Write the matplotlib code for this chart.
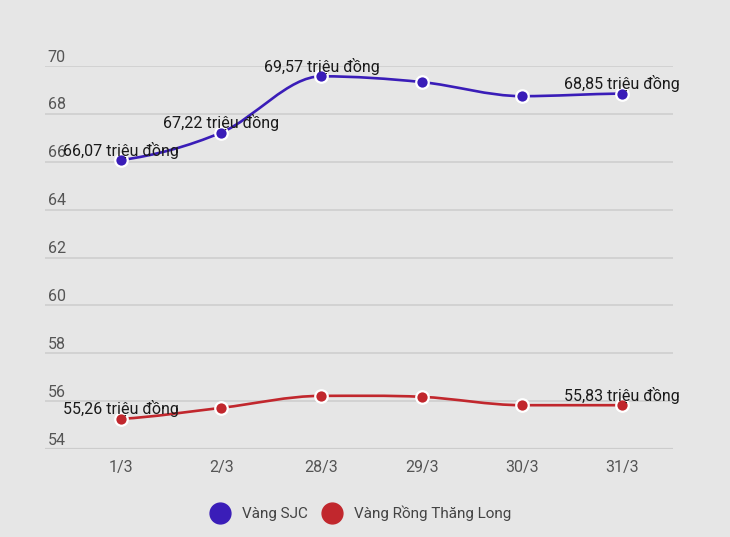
import numpy as np
import matplotlib
matplotlib.use('Agg')
import matplotlib.pyplot as plt
from matplotlib.path import Path
from matplotlib.patches import PathPatch
from matplotlib.lines import Line2D
import matplotlib.transforms as mtransforms

plt.rcParams['font.family'] = ['Roboto', 'DejaVu Sans']

days = ['1/3', '2/3', '28/3', '29/3', '30/3', '31/3']
sjc = [66.07, 67.22, 69.57, 69.33, 68.74, 68.85]
rong = [55.26, 55.72, 56.22, 56.18, 55.83, 55.83]
yticks = [54, 56, 58, 60, 62, 64, 66, 68, 70]
# which points get a value label
labelled = [0, 1, 2, 5]
labelled_rong = [0, 5]

bg = '#e6e6e6'
blue = '#3a1db8'
red = '#c1272d'


def smooth_path(xs, ys):
    # cubic bezier through points, flat tangents at local extremes
    xs = np.asarray(xs, float)
    ys = np.asarray(ys, float)
    n = len(xs)
    sec = np.diff(ys) / np.diff(xs)
    m = np.zeros(n)
    for i in range(n):
        if i == 0:
            m[i] = sec[0] * 0.5
        elif i == n - 1:
            m[i] = sec[-1] * 0.5
        elif sec[i - 1] * sec[i] <= 0:
            m[i] = 0.0
        else:
            m[i] = (sec[i - 1] + sec[i]) / 2
    verts = [(xs[0], ys[0])]
    codes = [Path.MOVETO]
    for i in range(n - 1):
        dx = xs[i + 1] - xs[i]
        verts += [(xs[i] + dx / 3, ys[i] + m[i] * dx / 3),
                  (xs[i + 1] - dx / 3, ys[i + 1] - m[i + 1] * dx / 3),
                  (xs[i + 1], ys[i + 1])]
        codes += [Path.CURVE4] * 3
    return Path(verts, codes)


fig = plt.figure(figsize=(7.3, 5.37), dpi=100, facecolor=bg)
ax = fig.add_axes([45 / 730, 88 / 537, 628 / 730, 383 / 537])
ax.set_facecolor(bg)

x = np.arange(len(days))
ax.set_xlim(-0.76, 5.51)
ax.set_ylim(54, 70)

for v in yticks:
    ax.axhline(v, color='#cccccc', lw=1.1 if v != 54 else 1.6, zorder=1)

ax.set_yticks([])
ax.set_xticks(x)
ax.set_xticklabels(days, fontsize=11.5, color='#555555')
ax.tick_params(axis='x', length=0, pad=8)
for s in ax.spines.values():
    s.set_visible(False)

ylab = mtransforms.blended_transform_factory(ax.transAxes, ax.transData)
off = mtransforms.offset_copy(ylab, fig=fig, x=1, y=1, units='points')
for v in yticks:
    ax.text(0.002, v, str(v), transform=off, ha='left', va='bottom',
            fontsize=11.5, color='#555555')

for vals, col, labs in [(sjc, blue, labelled), (rong, red, labelled_rong)]:
    ax.add_patch(PathPatch(smooth_path(x, vals), facecolor='none',
                           edgecolor=col, lw=1.9, zorder=3, clip_on=False))
    ax.plot(x, vals, 'o', color=col, ms=9, mec='white', mew=1.6,
            zorder=4, clip_on=False)
    for i in labs:
        ax.annotate(f'{vals[i]:.2f}'.replace('.', ',') + ' triệu đồng',
                    (x[i], vals[i]), xytext=(0, 1), textcoords='offset points',
                    ha='center', va='bottom', fontsize=11.5, color='#1a1a1a',
                    zorder=5)

handles = [Line2D([], [], ls='', marker='o', ms=15, color=blue, mec=blue),
           Line2D([], [], ls='', marker='o', ms=15, color=red, mec=red)]
fig.legend(handles, ['Vàng SJC', 'Vàng Rồng Thăng Long'], loc='center',
           bbox_to_anchor=(0.494, 0.044), ncol=2, frameon=False,
           fontsize=11, labelcolor='#444444', handletextpad=0.8,
           columnspacing=0.9, handlelength=1.3)

fig.savefig('out.png', dpi=100, facecolor=bg)
